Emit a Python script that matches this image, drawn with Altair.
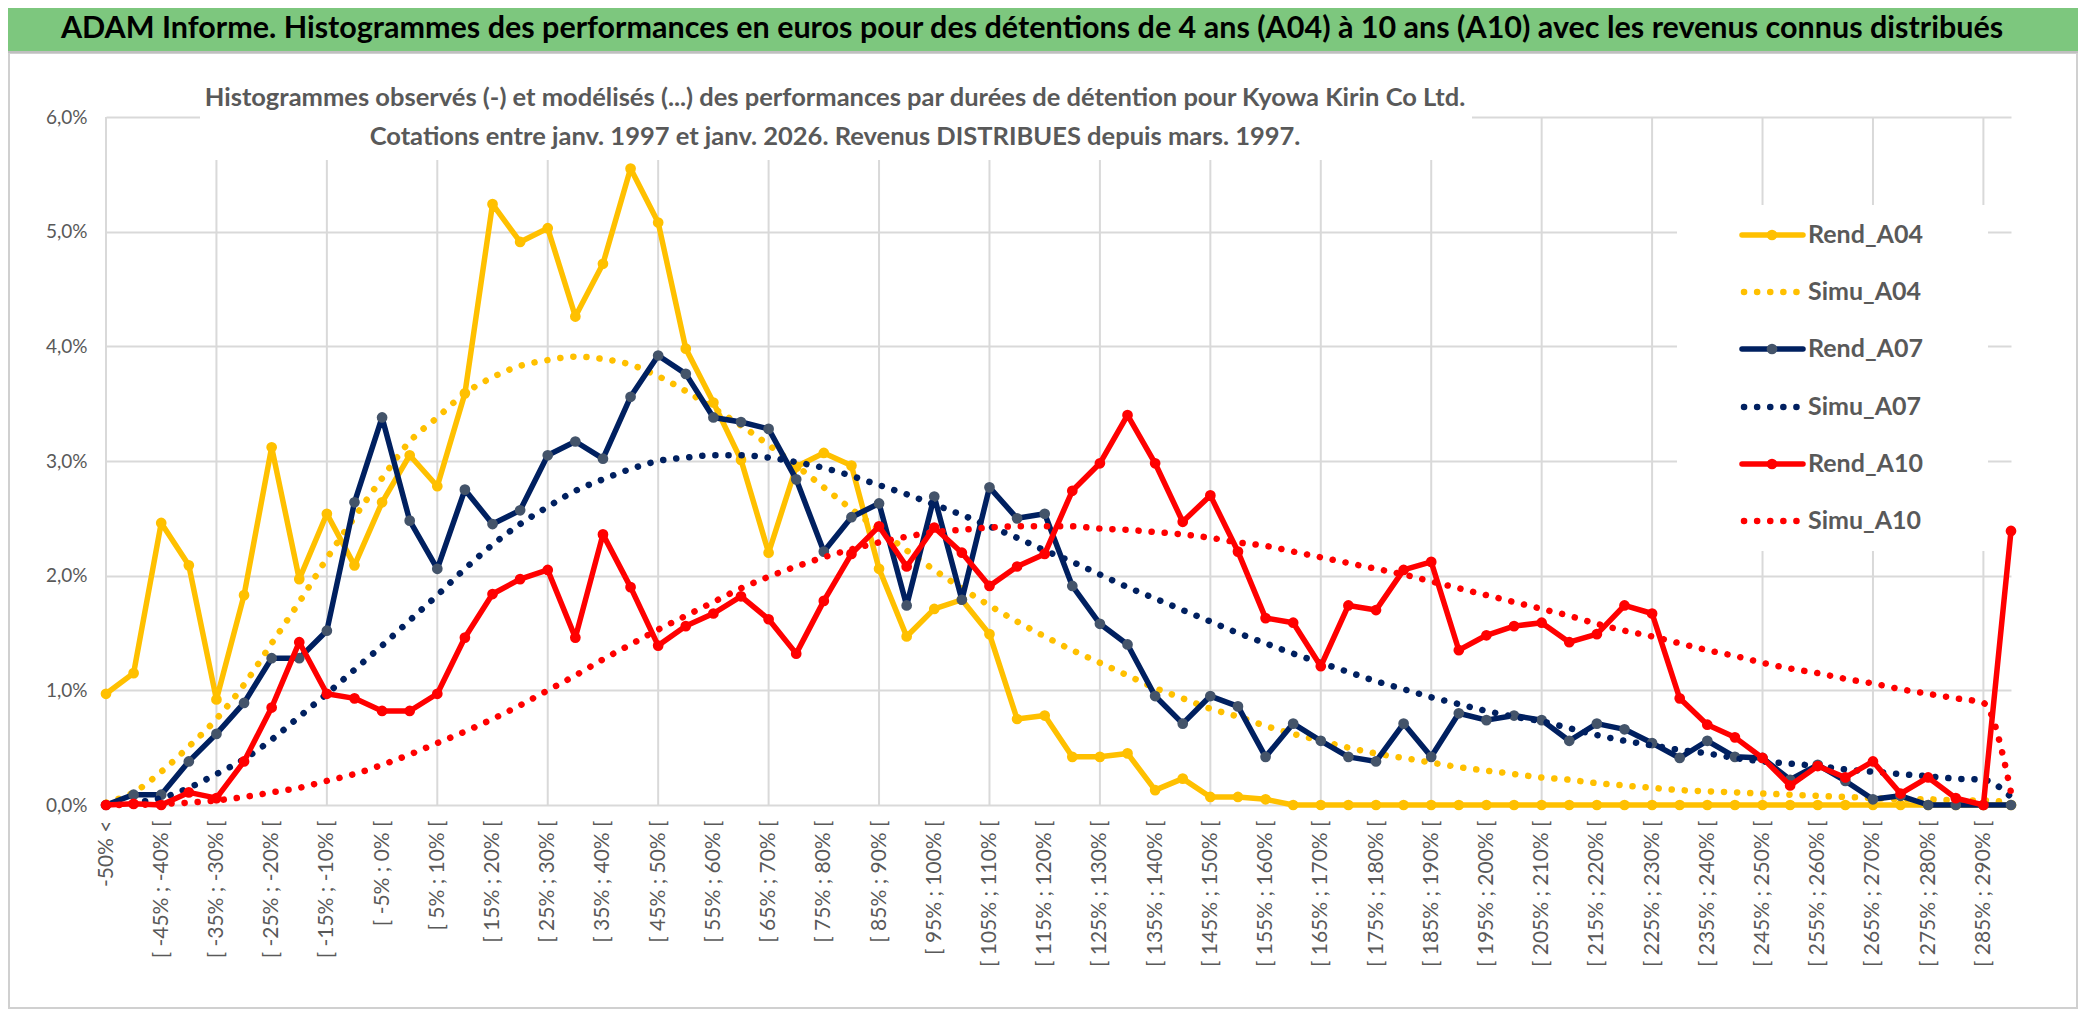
import altair as alt
import pandas as pd

categories = [
    "-50% <",
    "[ -50% ; -45% [", "[ -45% ; -40% [", "[ -40% ; -35% [", "[ -35% ; -30% [", "[ -30% ; -25% [",
    "[ -25% ; -20% [", "[ -20% ; -15% [", "[ -15% ; -10% [", "[ -10% ; -5% [", "[ -5% ; 0% [",
    "[ 0% ; 5% [", "[ 5% ; 10% [", "[ 10% ; 15% [", "[ 15% ; 20% [", "[ 20% ; 25% [",
    "[ 25% ; 30% [", "[ 30% ; 35% [", "[ 35% ; 40% [", "[ 40% ; 45% [", "[ 45% ; 50% [",
    "[ 50% ; 55% [", "[ 55% ; 60% [", "[ 60% ; 65% [", "[ 65% ; 70% [", "[ 70% ; 75% [",
    "[ 75% ; 80% [", "[ 80% ; 85% [", "[ 85% ; 90% [", "[ 90% ; 95% [", "[ 95% ; 100% [",
    "[ 100% ; 105% [", "[ 105% ; 110% [", "[ 110% ; 115% [", "[ 115% ; 120% [", "[ 120% ; 125% [",
    "[ 125% ; 130% [", "[ 130% ; 135% [", "[ 135% ; 140% [", "[ 140% ; 145% [", "[ 145% ; 150% [",
    "[ 150% ; 155% [", "[ 155% ; 160% [", "[ 160% ; 165% [", "[ 165% ; 170% [", "[ 170% ; 175% [",
    "[ 175% ; 180% [", "[ 180% ; 185% [", "[ 185% ; 190% [", "[ 190% ; 195% [", "[ 195% ; 200% [",
    "[ 200% ; 205% [", "[ 205% ; 210% [", "[ 210% ; 215% [", "[ 215% ; 220% [", "[ 220% ; 225% [",
    "[ 225% ; 230% [", "[ 230% ; 235% [", "[ 235% ; 240% [", "[ 240% ; 245% [", "[ 245% ; 250% [",
    "[ 250% ; 255% [", "[ 255% ; 260% [", "[ 260% ; 265% [", "[ 265% ; 270% [", "[ 270% ; 275% [",
    "[ 275% ; 280% [", "[ 280% ; 285% [", "[ 285% ; 290% [", "> 290%",
]

# values in percent
rend_a04 = [0.97, 1.15, 2.46, 2.09, 0.92, 1.83, 3.12, 1.97, 2.54, 2.09,
            2.64, 3.05, 2.78, 3.59, 5.24, 4.91, 5.03, 4.26, 4.72, 5.55,
            5.08, 3.98, 3.51, 3.01, 2.20, 2.95, 3.07, 2.96, 2.06, 1.47,
            1.71, 1.79, 1.49, 0.75, 0.78, 0.42, 0.42, 0.45, 0.13, 0.23,
            0.07, 0.07, 0.05, 0.0, 0.0, 0.0, 0.0, 0.0, 0.0, 0.0,
            0.0, 0.0, 0.0, 0.0, 0.0, 0.0, 0.0, 0.0, 0.0, 0.0,
            0.0, 0.0, 0.0, 0.0, 0.0, 0.0, 0.0, 0.0, 0.0, 0.0]
simu_a04 = [0.02, 0.11, 0.29, 0.51, 0.75, 1.05, 1.41, 1.77, 2.15, 2.51,
            2.85, 3.17, 3.38, 3.59, 3.73, 3.83, 3.88, 3.91, 3.89, 3.84,
            3.74, 3.61, 3.46, 3.31, 3.14, 2.96, 2.77, 2.58, 2.40, 2.22,
            2.05, 1.89, 1.74, 1.60, 1.47, 1.35, 1.24, 1.13, 1.02, 0.93,
            0.84, 0.77, 0.69, 0.62, 0.56, 0.50, 0.45, 0.41, 0.37, 0.33,
            0.30, 0.27, 0.24, 0.22, 0.19, 0.17, 0.15, 0.13, 0.12, 0.11,
            0.10, 0.09, 0.08, 0.07, 0.06, 0.05, 0.05, 0.04, 0.04, 0.02]
rend_a07 = [0.0, 0.09, 0.09, 0.38, 0.62, 0.89, 1.28, 1.28, 1.52, 2.64,
            3.38, 2.48, 2.06, 2.75, 2.45, 2.57, 3.05, 3.17, 3.02, 3.56,
            3.92, 3.76, 3.38, 3.34, 3.28, 2.84, 2.21, 2.51, 2.63, 1.74,
            2.69, 1.79, 2.77, 2.50, 2.54, 1.91, 1.58, 1.40, 0.95, 0.71,
            0.95, 0.86, 0.42, 0.71, 0.56, 0.42, 0.38, 0.71, 0.42, 0.80,
            0.74, 0.78, 0.74, 0.56, 0.71, 0.66, 0.54, 0.41, 0.56, 0.42,
            0.41, 0.22, 0.35, 0.21, 0.05, 0.08, 0.0, 0.0, 0.0, 0.0]
simu_a07 = [0.0, 0.02, 0.06, 0.15, 0.27, 0.40, 0.57, 0.77, 0.97, 1.18,
            1.39, 1.61, 1.83, 2.06, 2.27, 2.45, 2.60, 2.74, 2.84, 2.93,
            3.00, 3.03, 3.05, 3.05, 3.03, 2.99, 2.94, 2.87, 2.79, 2.71,
            2.62, 2.53, 2.43, 2.33, 2.22, 2.12, 2.01, 1.90, 1.80, 1.70,
            1.60, 1.50, 1.41, 1.32, 1.24, 1.16, 1.08, 1.01, 0.94, 0.88,
            0.82, 0.77, 0.73, 0.67, 0.61, 0.56, 0.52, 0.48, 0.45, 0.41,
            0.38, 0.36, 0.34, 0.31, 0.29, 0.27, 0.25, 0.23, 0.22, 0.07]
rend_a10 = [0.0, 0.01, 0.0, 0.11, 0.06, 0.38, 0.85, 1.42, 0.97, 0.93,
            0.82, 0.82, 0.97, 1.46, 1.84, 1.97, 2.05, 1.46, 2.36, 1.90,
            1.39, 1.56, 1.67, 1.82, 1.62, 1.32, 1.78, 2.19, 2.43, 2.08,
            2.42, 2.20, 1.91, 2.08, 2.19, 2.74, 2.98, 3.40, 2.98, 2.47,
            2.70, 2.21, 1.63, 1.59, 1.21, 1.74, 1.70, 2.05, 2.12, 1.35,
            1.48, 1.56, 1.59, 1.42, 1.49, 1.74, 1.67, 0.93, 0.70, 0.59,
            0.41, 0.17, 0.34, 0.24, 0.38, 0.10, 0.24, 0.06, 0.0, 2.39]
simu_a10 = [0.0, 0.0, 0.01, 0.02, 0.04, 0.07, 0.11, 0.15, 0.21, 0.27,
            0.35, 0.44, 0.54, 0.64, 0.75, 0.87, 1.00, 1.13, 1.27, 1.40,
            1.53, 1.65, 1.77, 1.89, 1.99, 2.08, 2.16, 2.23, 2.29, 2.34,
            2.38, 2.40, 2.42, 2.43, 2.43, 2.43, 2.41, 2.40, 2.38, 2.36,
            2.33, 2.29, 2.26, 2.21, 2.16, 2.11, 2.06, 2.01, 1.95, 1.89,
            1.83, 1.77, 1.71, 1.65, 1.58, 1.52, 1.47, 1.41, 1.35, 1.30,
            1.24, 1.19, 1.15, 1.10, 1.06, 1.01, 0.97, 0.93, 0.89, 0.11]

series_names = ["Rend_A04", "Simu_A04", "Rend_A07", "Simu_A07", "Rend_A10", "Simu_A10"]
y_ticks = [0, 1, 2, 3, 4, 5, 6]

title_text = ("ADAM Informe. Histogrammes des performances en euros pour des détentions "
              "de 4 ans (A04) à 10 ans (A10) avec les revenus connus distribués")
subtitle_1 = ("Histogrammes observés (-) et modélisés (...) des performances par durées "
              "de détention pour Kyowa Kirin Co Ltd.")
subtitle_2 = "Cotations entre janv. 1997 et janv. 2026. Revenus DISTRIBUES depuis mars. 1997."

GOLD = "#FFC000"
NAVY = "#002060"
NAVY_MK = "#44546A"
RED = "#FF0000"
GRID = "#D9D9D9"
TXT = "#595959"
FONT = "Lato"

W, H = 1905, 688

xs = alt.Scale(type="point", domain=categories, padding=0)
ys = alt.Scale(domain=[0, 6], nice=False, zero=True)

x_enc = alt.X(
    "cat:O", scale=xs, sort=categories, title=None,
    axis=alt.Axis(values=categories[::2], labelAngle=270, labelPadding=15,
                  labelFontSize=21, labelColor=TXT, labelFont=FONT, ticks=False,
                  domain=False, grid=False, labelOverlap=False, labelLimit=400),
)
y_enc = alt.Y(
    "v:Q", scale=ys, title=None,
    axis=alt.Axis(values=y_ticks, labelExpr="replace(format(datum.value, '.1f'), '.', ',') + '%'",
                  grid=True, gridColor=GRID, gridWidth=2, domain=False, ticks=False,
                  labelPadding=19, labelFontSize=19, labelColor=TXT, labelFont=FONT),
)

one = pd.DataFrame({"k": [0]})


def df_for(vals):
    return pd.DataFrame({"cat": categories, "v": vals})


layers = []

# chart border and green title band
layers.append(alt.Chart(one).mark_rect(filled=False, stroke="#D0D0D0", strokeWidth=2).encode(
    x=alt.value(-97), x2=alt.value(1971), y=alt.value(-64), y2=alt.value(891)))
layers.append(alt.Chart(one).mark_rect(color="#7DC77E").encode(
    x=alt.value(-120), x2=alt.value(2000), y=alt.value(-130), y2=alt.value(-66)))
layers.append(alt.Chart(one).mark_rule(color="#BFBFBF", strokeWidth=2).encode(
    x=alt.value(-120), x2=alt.value(2000), y=alt.value(-65)))

# vertical gridlines every 4 categories
layers.append(alt.Chart(pd.DataFrame({"cat": categories[::4]})).mark_rule(
    color=GRID, strokeWidth=2).encode(x=x_enc))

# white boxes behind subtitle and legend
layers.append(alt.Chart(one).mark_rect(color="white").encode(
    x=alt.value(94), x2=alt.value(1366), y=alt.value(-40), y2=alt.value(43)))
layers.append(alt.Chart(one).mark_rect(color="white").encode(
    x=alt.value(1571), x2=alt.value(1882), y=alt.value(88), y2=alt.value(434)))

styles = [
    ("Rend_A04", rend_a04, GOLD, GOLD, False),
    ("Simu_A04", simu_a04, GOLD, None, True),
    ("Rend_A07", rend_a07, NAVY, NAVY_MK, False),
    ("Simu_A07", simu_a07, NAVY, None, True),
    ("Rend_A10", rend_a10, RED, RED, False),
    ("Simu_A10", simu_a10, RED, None, True),
]

DOT = [0.1, 13]
for name, vals, col, mk, dotted in styles:
    d = df_for(vals)
    if dotted:
        layers.append(alt.Chart(d).mark_line(color=col, strokeWidth=6.5, strokeDash=DOT,
                                             strokeCap="round", interpolate="monotone").encode(
            x=x_enc, y=y_enc))
    else:
        layers.append(alt.Chart(d).mark_line(color=col, strokeWidth=5.5, strokeJoin="round").encode(
            x=x_enc, y=y_enc))
        layers.append(alt.Chart(d).mark_point(filled=True, color=mk, size=115, opacity=1).encode(
            x=x_enc, y=y_enc))

# legend
leg_rows = [118, 175, 232, 290, 347, 404]
for (name, vals, col, mk, dotted), ly in zip(styles, leg_rows):
    if dotted:
        layers.append(alt.Chart(one).mark_rule(color=col, strokeWidth=6.5, strokeDash=DOT,
                                               strokeCap="round").encode(
            x=alt.value(1638), x2=alt.value(1697), y=alt.value(ly)))
    else:
        layers.append(alt.Chart(one).mark_rule(color=col, strokeWidth=5.5, strokeCap="round").encode(
            x=alt.value(1636), x2=alt.value(1697), y=alt.value(ly)))
        layers.append(alt.Chart(one).mark_point(filled=True, color=mk, size=115, opacity=1).encode(
            x=alt.value(1666), y=alt.value(ly)))
    layers.append(alt.Chart(one).mark_text(align="left", baseline="middle", fontSize=25,
                                           font=FONT, fontWeight="bold", color=TXT,
                                           text=name).encode(
        x=alt.value(1702), y=alt.value(ly)))

# titles
layers.append(alt.Chart(one).mark_text(align="center", baseline="middle", fontSize=30.5,
                                       font=FONT, fontWeight="bold", color="black",
                                       text=title_text).encode(
    x=alt.value(926), y=alt.value(-88)))
layers.append(alt.Chart(one).mark_text(align="center", baseline="middle", fontSize=25.5,
                                       font=FONT, fontWeight="bold", color=TXT,
                                       text=subtitle_1).encode(
    x=alt.value(729), y=alt.value(-19)))
layers.append(alt.Chart(one).mark_text(align="center", baseline="middle", fontSize=25.5,
                                       font=FONT, fontWeight="bold", color=TXT,
                                       text=subtitle_2).encode(
    x=alt.value(729), y=alt.value(20)))

chart = alt.layer(*layers).properties(
    width=W, height=H,
    padding={"left": 98, "top": 109, "right": 67, "bottom": 213},
    autosize=alt.AutoSizeParams(type="none"),
    background="white",
).configure_view(stroke=None)

chart.save("out.html", embed_options={"renderer": "svg", "actions": False})
